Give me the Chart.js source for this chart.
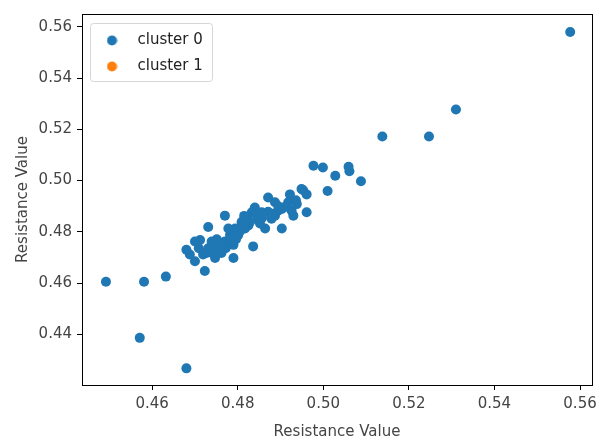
<!DOCTYPE html>
<html>
<head>
<meta charset="utf-8">
<script src="https://cdn.jsdelivr.net/npm/chart.js@4"></script>
<style>
  html, body { margin: 0; padding: 0; background: #fff; }
  #wrap { width: 602px; height: 443px; }
</style>
</head>
<body>
<div id="wrap"><canvas id="myChart"></canvas></div>
<script>
// values
const seriesNames = ['cluster 0', 'cluster 1'];
const seriesColors = ['#1f77b4', '#ff7f0e'];

const cluster0X = [
  0.4492, 0.4581, 0.4632, 0.4571, 0.4680, 0.5577, 0.5310, 0.5247, 0.5138, 0.4977,
  0.4999, 0.5028, 0.5059, 0.5061, 0.5088, 0.5010, 0.4953, 0.4961, 0.4961, 0.4949,
  0.4922, 0.4930, 0.4926, 0.4918, 0.4903, 0.4903, 0.4887, 0.4887, 0.4879, 0.4871,
  0.4864, 0.4856, 0.4848, 0.4840, 0.4833, 0.4825, 0.4821, 0.4809, 0.4809, 0.4801,
  0.4794, 0.4790, 0.4782, 0.4778, 0.4770, 0.4770, 0.4762, 0.4754, 0.4762, 0.4747,
  0.4739, 0.4731, 0.4731, 0.4727, 0.4719, 0.4712, 0.4700, 0.4700, 0.4688, 0.4680,
  0.4723, 0.4790, 0.4836, 0.4805, 0.4817, 0.4829, 0.4796, 0.4782, 0.4772, 0.4857,
  0.4871, 0.4894, 0.4910, 0.4936, 0.4852, 0.4740, 0.4751, 0.4709, 0.4744, 0.4815,
  0.4938, 0.4760, 0.4785, 0.4800, 0.4845, 0.4880, 0.4895, 0.4815, 0.4750
];
const cluster0Y = [
  0.4605, 0.4605, 0.4625, 0.4386, 0.4267, 0.5580, 0.5277, 0.5172, 0.5172, 0.5058,
  0.5051, 0.5019, 0.5054, 0.5036, 0.4997, 0.4959, 0.4962, 0.4946, 0.4876, 0.4967,
  0.4946, 0.4863, 0.4882, 0.4915, 0.4889, 0.4813, 0.4915, 0.4863, 0.4851, 0.4934,
  0.4813, 0.4876, 0.4851, 0.4895, 0.4876, 0.4825, 0.4851, 0.4838, 0.4819, 0.4787,
  0.4813, 0.4749, 0.4787, 0.4813, 0.4863, 0.4762, 0.4755, 0.4736, 0.4717, 0.4698,
  0.4762, 0.4736, 0.4819, 0.4717, 0.4711, 0.4768, 0.4762, 0.4685, 0.4711, 0.4730,
  0.4647, 0.4698, 0.4743, 0.4801, 0.4813, 0.4839, 0.4771, 0.4755, 0.4736, 0.4855,
  0.4878, 0.4882, 0.4897, 0.4923, 0.4832, 0.4717, 0.4771, 0.4736, 0.4732, 0.4862,
  0.4908, 0.4745, 0.4770, 0.4810, 0.4865, 0.4870, 0.4900, 0.4830, 0.4725
];
// cluster 1 has no visible points
const cluster1X = [];
const cluster1Y = [];

const xTicks = [0.46, 0.48, 0.50, 0.52, 0.54, 0.56];
const yTicks = [0.44, 0.46, 0.48, 0.50, 0.52, 0.54, 0.56];
const xRange = [0.4436, 0.5628];
const yRange = [0.4202, 0.5650];
const axisTitle = 'Resistance Value';

const font = 'DejaVu Sans';

function toPoints(xs, ys) {
  return xs.map((x, i) => ({ x: x, y: ys[i] }));
}

// small round marker used in the legend
function dot(color) {
  const c = document.createElement('canvas');
  c.width = 11;
  c.height = 11;
  const g = c.getContext('2d');
  g.fillStyle = color;
  g.beginPath();
  g.arc(5.5, 5.5, 5, 0, Math.PI * 2);
  g.fill();
  return c;
}

const legendFrame = {
  id: 'legendFrame',
  afterLayout(chart) {
    // sit the legend in the top left corner of the plot
    chart.legend.left = chart.chartArea.left + 1;
    chart.legend.top = chart.chartArea.top + 8;
  },
  beforeDraw(chart) {
    const boxes = chart.legend.legendHitBoxes;
    if (!boxes || !boxes.length) return;
    let l = Infinity, r = -Infinity, t = Infinity, b = -Infinity;
    boxes.forEach((h) => {
      l = Math.min(l, h.left);
      r = Math.max(r, h.left + h.width);
      t = Math.min(t, h.top);
      b = Math.max(b, h.top + h.height);
    });
    const ctx = chart.ctx;
    ctx.save();
    ctx.fillStyle = 'rgba(255,255,255,0.8)';
    ctx.strokeStyle = '#d6d6d6';
    ctx.lineWidth = 1;
    ctx.beginPath();
    ctx.roundRect(Math.round(l - 4) + 0.5, Math.round(t - 10) + 0.5, Math.round(r - l + 13), Math.round(b - t + 17), 3);
    ctx.fill();
    ctx.stroke();
    ctx.restore();
  },
  afterDraw(chart) {
    const a = chart.chartArea;
    const ctx = chart.ctx;
    ctx.save();
    ctx.strokeStyle = '#000';
    ctx.lineWidth = 1;
    ctx.strokeRect(Math.round(a.left) + 0.5, Math.round(a.top) + 0.5,
      Math.round(a.right - a.left), Math.round(a.bottom - a.top));
    ctx.restore();
  }
};

const data = {
  datasets: [
    {
      label: seriesNames[0],
      data: toPoints(cluster0X, cluster0Y),
      backgroundColor: seriesColors[0],
      borderWidth: 0,
      pointRadius: 5
    },
    {
      label: seriesNames[1],
      data: toPoints(cluster1X, cluster1Y),
      backgroundColor: seriesColors[1],
      borderWidth: 0,
      pointRadius: 5
    }
  ]
};

const config = {
  type: 'scatter',
  data: data,
  plugins: [legendFrame],
  options: {
    responsive: true,
    maintainAspectRatio: false,
    animation: false,
    events: [],
    layout: { padding: { left: 0, top: 6, right: 10, bottom: 0 } },
    plugins: {
      tooltip: { enabled: false },
      legend: {
        position: 'chartArea',
        align: 'start',
        labels: {
          usePointStyle: true,
          pointStyleWidth: 36,
          padding: 11,
          color: '#222',
          font: { family: font, size: 15 },
          generateLabels: (chart) =>
            Chart.defaults.plugins.legend.labels.generateLabels(chart).map((item, i) => {
              item.pointStyle = dot(seriesColors[i]);
              return item;
            })
        }
      }
    },
    scales: {
      x: {
        type: 'linear',
        min: xRange[0],
        max: xRange[1],
        afterBuildTicks: (axis) => { axis.ticks = xTicks.map((v) => ({ value: v })); },
        afterFit: (axis) => { axis.height = 58; },
        border: { display: false },
        grid: { drawOnChartArea: false, drawTicks: true, tickLength: 5, color: '#000', tickColor: '#000' },
        ticks: {
          padding: 5,
          color: '#444',
          font: { family: font, size: 15 },
          maxRotation: 0,
          callback: (v) => v.toFixed(2)
        },
        title: {
          display: true,
          text: axisTitle,
          color: '#444',
          font: { family: font, size: 15 },
          padding: { top: 0, bottom: 2 }
        }
      },
      y: {
        type: 'linear',
        min: yRange[0],
        max: yRange[1],
        afterBuildTicks: (axis) => { axis.ticks = yTicks.map((v) => ({ value: v })); },
        afterFit: (axis) => { axis.width = 82; },
        border: { display: false },
        grid: { drawOnChartArea: false, drawTicks: true, tickLength: 5, color: '#000', tickColor: '#000' },
        ticks: {
          padding: 5,
          color: '#444',
          font: { family: font, size: 15 },
          callback: (v) => v.toFixed(2)
        },
        title: {
          display: true,
          text: axisTitle,
          color: '#444',
          font: { family: font, size: 15 },
          padding: { top: 14, bottom: 0 }
        }
      }
    }
  }
};

const myChart = new Chart(document.getElementById('myChart'), config);
</script>
</body>
</html>
